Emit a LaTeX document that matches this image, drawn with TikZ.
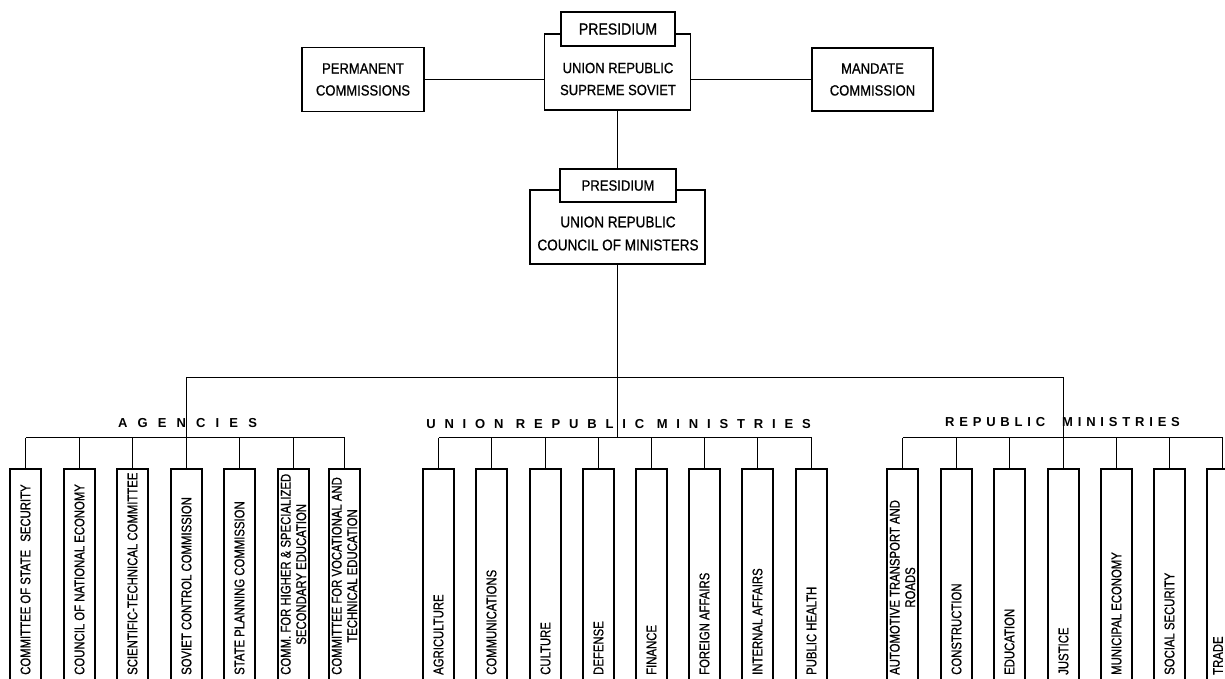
\documentclass[tikz,border=0pt]{standalone}
\usepackage{fontspec}
\setmainfont{Liberation Sans}[FakeStretch=0.88, FakeBold=0.8]
\newfontfamily\titlefont{Liberation Sans}
\newfontfamily\deptfont{Liberation Sans}[FakeStretch=0.81, FakeBold=0.8]
\tikzset{
  orgbox/.style={draw, line width=1.6pt, inner sep=0pt, align=center},
  orgtext/.style={inner sep=0pt, align=center},
  deptbox/.style={draw, line width=1.6pt, inner sep=0pt, minimum width=31pt, minimum height=240pt},
  depttext/.style={rotate=90, anchor=west, inner sep=0pt, align=center, font=\deptfont\fontsize{14}{15.5}\selectfont},
  grouptitle/.style={inner sep=0pt, font=\titlefont\bfseries\fontsize{13}{13}\selectfont},
  link/.style={line width=1.8pt}
}
\begin{document}
\begin{tikzpicture}[x=1pt,y=-1pt]
\useasboundingbox (0,0) rectangle (1225,679);
\clip (0,0) rectangle (1225,679);
% top level
\node[orgbox, minimum width=122pt, minimum height=64pt, font=\fontsize{14.8}{22}\selectfont] (permanent) at (363,79.5) {PERMANENT\\COMMISSIONS};
\node[orgbox, minimum width=121pt, minimum height=63pt, font=\fontsize{14.8}{22}\selectfont] (mandate) at (872.5,79.5) {MANDATE\\COMMISSION};
\node[orgbox, minimum width=146pt, minimum height=76pt] (soviet) at (617.5,72) {};
\node[orgtext, font=\fontsize{14.8}{22}\selectfont] (soviettext) at (618,79) {UNION REPUBLIC\\SUPREME SOVIET};
\node[orgbox, fill=white, minimum width=114pt, minimum height=34pt, font=\fontsize{16}{16}\selectfont] (presidium) at (618,29) {PRESIDIUM};
\draw[link] (permanent.east) -- (permanent.east -| soviet.west);
\draw[link] (mandate.west) -- (mandate.west -| soviet.east);
% council of ministers
\node[orgbox, minimum width=175pt, minimum height=74pt] (council) at (617.5,227) {};
\node[orgtext, font=\fontsize{15.4}{23}\selectfont] (counciltext) at (618,233.5) {UNION REPUBLIC\\COUNCIL OF MINISTERS};
\node[orgbox, fill=white, minimum width=116pt, minimum height=33pt, font=\fontsize{14.9}{15}\selectfont] (cpresidium) at (618,185.5) {PRESIDIUM};
\draw[link] (soviet.south) -- (soviet.south |- cpresidium.north);
\coordinate (hub) at (617.5,377.5);
\coordinate (groupbar) at (0,437.5);
\draw[link] (council.south) -- (hub);
% group titles
\node[grouptitle] (agtitle) at (187.5,423) {\addfontfeatures{LetterSpace=78}AGENCIES};
\node[grouptitle] (urmtitle) at (618.5,424) {\addfontfeatures{LetterSpace=68}UNION REPUBLIC MINISTRIES};
\node[grouptitle] (rmtitle) at (1062.5,422) {\addfontfeatures{LetterSpace=37}REPUBLIC\hspace{17pt}MINISTRIES};
% agencies
\node[deptbox] (csecurity) at (25.5,589) {};
\node[deptbox] (ceconomy) at (79.5,589) {};
\node[deptbox] (ctechnical) at (132.5,589) {};
\node[deptbox] (control) at (186.5,589) {};
\node[deptbox] (planning) at (239.5,589) {};
\node[deptbox] (higher) at (293.5,589) {};
\node[deptbox] (vocational) at (344.5,589) {};
\node[depttext] (csecurityt) at (25.5,675) {COMMITTEE OF STATE\hspace{5pt} SECURITY};
\node[depttext] (ceconomyt) at (79.5,675) {COUNCIL OF NATIONAL ECONOMY};
\node[depttext] (ctechnicalt) at (132.5,675) {SCIENTIFIC-TECHNICAL COMMITTEE};
\node[depttext] (controlt) at (186.5,675) {SOVIET CONTROL COMMISSION};
\node[depttext] (planningt) at (239.5,675) {STATE PLANNING COMMISSION};
\node[depttext] (highert) at (293.5,675) {COMM. FOR HIGHER \& SPECIALIZED\\SECONDARY EDUCATION};
\node[depttext] (vocationalt) at (344.5,675) {COMMITTEE FOR VOCATIONAL AND\\TECHNICAL EDUCATION};
\draw[link] (csecurity.north |- groupbar) -- (vocational.north |- groupbar);
\draw[link] (csecurity.north) -- (csecurity.north |- groupbar);
\draw[link] (ceconomy.north) -- (ceconomy.north |- groupbar);
\draw[link] (ctechnical.north) -- (ctechnical.north |- groupbar);
\draw[link] (planning.north) -- (planning.north |- groupbar);
\draw[link] (higher.north) -- (higher.north |- groupbar);
\draw[link] (vocational.north) -- (vocational.north |- groupbar);
% union republic ministries
\node[deptbox] (agriculture) at (438.5,589) {};
\node[deptbox] (communications) at (491.5,589) {};
\node[deptbox] (culture) at (545.5,589) {};
\node[deptbox] (defense) at (598.5,589) {};
\node[deptbox] (finance) at (651.5,589) {};
\node[deptbox] (foreign) at (704.5,589) {};
\node[deptbox] (internal) at (757.5,589) {};
\node[deptbox] (health) at (811.5,589) {};
\node[depttext] (agriculturet) at (438.5,675) {AGRICULTURE};
\node[depttext] (communicationst) at (491.5,675) {COMMUNICATIONS};
\node[depttext] (culturet) at (545.5,675) {CULTURE};
\node[depttext] (defenset) at (598.5,675) {DEFENSE};
\node[depttext] (financet) at (651.5,675) {FINANCE};
\node[depttext] (foreignt) at (704.5,675) {FOREIGN AFFAIRS};
\node[depttext] (internalt) at (757.5,675) {INTERNAL AFFAIRS};
\node[depttext] (healtht) at (811.5,675) {PUBLIC HEALTH};
\draw[link] (agriculture.north |- groupbar) -- (health.north |- groupbar);
\draw[link] (agriculture.north) -- (agriculture.north |- groupbar);
\draw[link] (communications.north) -- (communications.north |- groupbar);
\draw[link] (culture.north) -- (culture.north |- groupbar);
\draw[link] (defense.north) -- (defense.north |- groupbar);
\draw[link] (finance.north) -- (finance.north |- groupbar);
\draw[link] (foreign.north) -- (foreign.north |- groupbar);
\draw[link] (internal.north) -- (internal.north |- groupbar);
\draw[link] (health.north) -- (health.north |- groupbar);
% republic ministries
\node[deptbox] (automotive) at (902.5,589) {};
\node[deptbox] (construction) at (956.5,589) {};
\node[deptbox] (education) at (1009.5,589) {};
\node[deptbox] (justice) at (1063.5,589) {};
\node[deptbox] (municipal) at (1116.5,589) {};
\node[deptbox] (social) at (1169.5,589) {};
\node[deptbox] (trade) at (1222.5,589) {};
\node[depttext] (automotivet) at (902.5,675) {AUTOMOTIVE TRANSPORT AND\\ROADS};
\node[depttext] (constructiont) at (956.5,675) {CONSTRUCTION};
\node[depttext] (educationt) at (1009.5,675) {EDUCATION};
\node[depttext] (justicet) at (1063.5,675) {JUSTICE};
\node[depttext] (municipalt) at (1116.5,675) {MUNICIPAL ECONOMY};
\node[depttext] (socialt) at (1169.5,675) {SOCIAL SECURITY};
\node[depttext] (tradet) at (1218,675) {TRADE};
\draw[link] (automotive.north |- groupbar) -- (trade.north |- groupbar);
\draw[link] (automotive.north) -- (automotive.north |- groupbar);
\draw[link] (construction.north) -- (construction.north |- groupbar);
\draw[link] (education.north) -- (education.north |- groupbar);
\draw[link] (municipal.north) -- (municipal.north |- groupbar);
\draw[link] (social.north) -- (social.north |- groupbar);
\draw[link] (trade.north) -- (trade.north |- groupbar);
% main branches
\draw[link] (control.north) -- (control.north |- hub) -- (justice.north |- hub) -- (justice.north);
\draw[link] (hub) -- (hub |- groupbar);
\end{tikzpicture}
\end{document}
